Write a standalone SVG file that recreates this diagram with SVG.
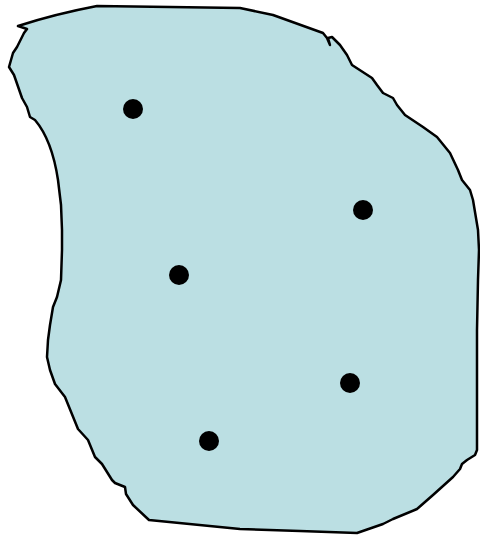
<svg xmlns="http://www.w3.org/2000/svg" width="480" height="537" viewBox="0 0 480 537">
<style>
.region{fill:#bbdfe3;stroke:#000;stroke-width:2.5;stroke-linejoin:round}
.pt{fill:#000}
</style>
<g id="region">
<path class="region" d="M97,6 L170,7 L240,8 L273,15 L323,33 L327,38 L330,45 L328,38 L332,37 L340,45 L347,55 L352,65 L372,78 L377,85 L383,93 L393,98 L397,105 L405,115 L423,127 L437,137 L450,153 L458,170 L462,180 L470,190 L473,200 L478,230 L479,250 L478,280 L477,330 L477,360 L477,450 L475,455 L467,460 L462,464 L460,469 L453,477 L433,495 L417,509 L393,519 L383,524 L357,533 L300,531 L240,529 L149,520 L133,505 L126,494 L125,487 L115,483 L112,480 L102,464 L95,457 L88,440 L78,429 L65,397 L55,384 L50,370 L47,357 L48,340 L50,325 L53,307 L57,297 L61,280 L62,250 L62,230 L61,205 L58,180 Q52,140 35,120 L30,117 L27,107 L22,98 L14,75 L9,67 L13,53 L17,47 L24,33 L27,29 L18,26 Q55,14 97,6 Z"/>
</g>
<g id="points">
<circle id="p1" class="pt" cx="133" cy="109" r="10"/>
<circle id="p2" class="pt" cx="363" cy="210" r="10"/>
<circle id="p3" class="pt" cx="179" cy="275" r="10"/>
<circle id="p4" class="pt" cx="350" cy="383" r="10"/>
<circle id="p5" class="pt" cx="209" cy="441" r="10"/>
</g>
<g id="connectors"></g>
</svg>
